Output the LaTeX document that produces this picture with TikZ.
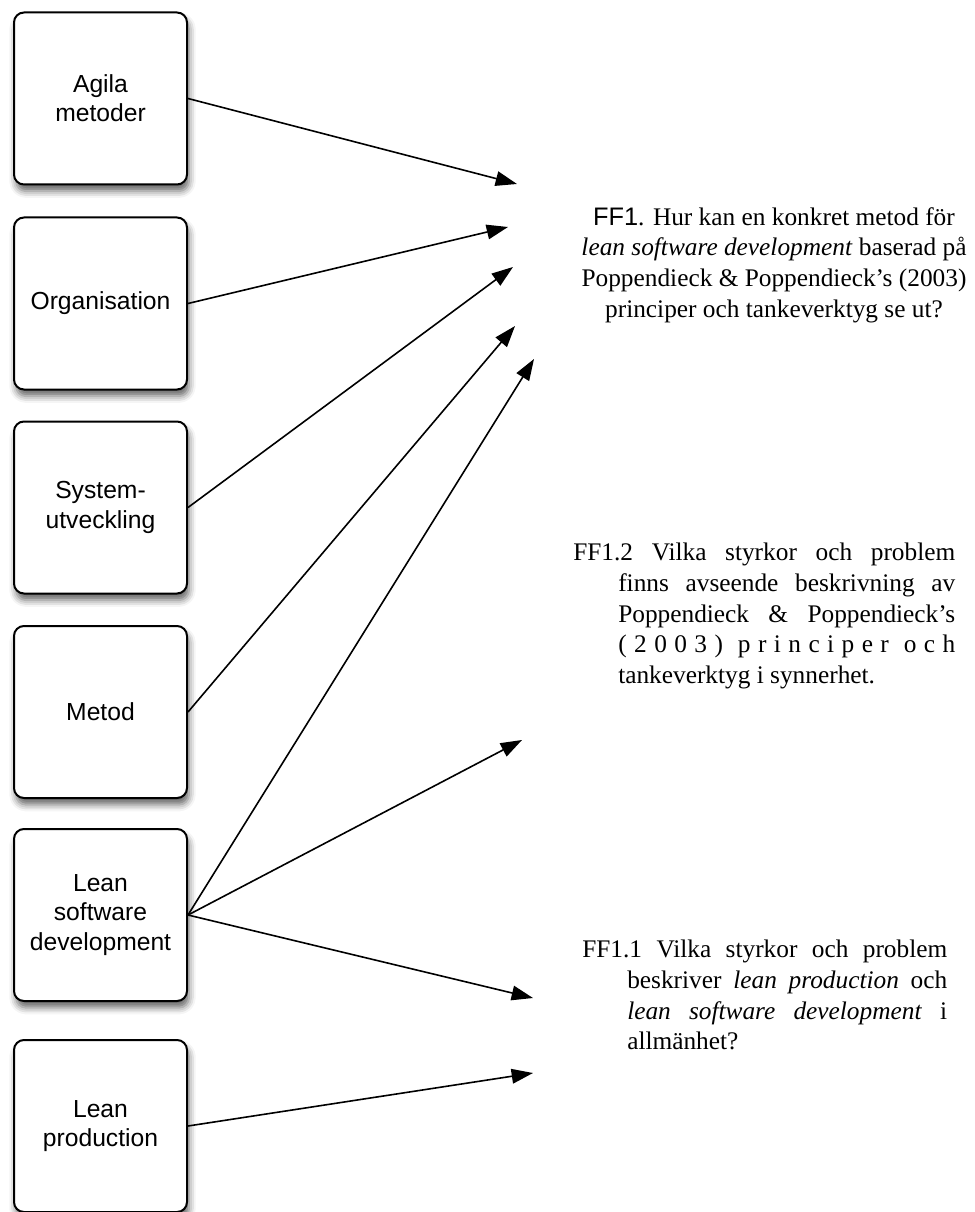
\documentclass[tikz,border=0pt]{standalone}
\usepackage{fontspec}
\setmainfont{Liberation Serif}
\newfontfamily\helv{Liberation Sans}
\usetikzlibrary{arrows.meta,shadows.blur}
\begin{document}
\begin{tikzpicture}[x=0.75pt,y=-0.75pt,
  topic/.style={draw=black, line width=1.5pt, fill=white, rounded corners=7.5pt,
    minimum width=129.75pt, minimum height=129pt, inner sep=0pt, align=center,
    font=\helv\fontsize{18.5}{22}\selectfont,
    blur shadow={shadow xshift=1.5pt, shadow yshift=-5pt, shadow blur radius=5pt, shadow opacity=60}},
  link/.style={line width=1.2pt, -{Triangle[length=16pt,width=11pt]}},
  question/.style={inner sep=0pt, align=left, anchor=north west, font=\fontsize{19}{23}\selectfont}
]
\useasboundingbox (0,0) rectangle (974,1212);

% topic boxes on the left
\node[topic] (agila) at (100.5,98.5)  {Agila\\metoder};
\node[topic] (org)   at (100.5,303.5) {Organisation};
\node[topic] (sys)   at (100.5,507.5) {System-\\utveckling};
\node[topic] (metod) at (100.5,712)   {Metod};
\node[topic] (lsd)   at (100.5,915)   {Lean\\software\\development};
\node[topic] (lp)    at (100.5,1126)  {Lean\\production};

% research questions on the right
\node[inner sep=0pt, align=center, anchor=north, font=\fontsize{19}{23}\selectfont] (ff1) at (774,207)
  {{\helv FF1}. Hur kan en konkret metod för\\
   \textit{lean software development} baserad på\\
   Poppendieck \& Poppendieck’s (2003)\\
   principer och tankeverktyg se ut?};

\node[question] (ff12) at (573,543)
  {\makebox[286.5pt][s]{FF1.2 Vilka styrkor och problem}\\
   \hspace*{33.75pt}\makebox[252.75pt][s]{finns avseende beskrivning av}\\
   \hspace*{33.75pt}\makebox[252.75pt][s]{Poppendieck \& Poppendieck’s}\\
   \hspace*{33.75pt}\hbox to 252.75pt{(\hfill 2\hfill 0\hfill 0\hfill 3\hfill )\hfill\hfill p\hfill r\hfill i\hfill n\hfill c\hfill i\hfill p\hfill e\hfill r\hfill\hfill o\hfill c\hfill h}\\
   \hspace*{33.75pt}tankeverktyg i synnerhet.};

\node[question] (ff11) at (582,940)
  {\makebox[273.75pt][s]{FF1.1 Vilka styrkor och problem}\\
   \hspace*{33.75pt}\makebox[240pt][s]{beskriver \textit{lean production} och}\\
   \hspace*{33.75pt}\makebox[240pt][s]{\textit{lean software development} i}\\
   \hspace*{33.75pt}allmänhet?};

% arrow tips
\coordinate (t1) at (517,184);
\coordinate (t2) at (508,227);
\coordinate (t3) at (513,267);
\coordinate (t4) at (515,326);
\coordinate (t5) at (534,359);
\coordinate (t6) at (522,740);
\coordinate (t7) at (533,998);
\coordinate (t8) at (533,1073);

\draw[link] (agila.east) -- (t1);
\draw[link] (org.east) -- (t2);
\draw[link] (sys.east) -- (t3);
\draw[link] (metod.east) -- (t4);
\draw[link] (lsd.east) -- (t5);
\draw[link] (lsd.east) -- (t6);
\draw[link] (lsd.east) -- (t7);
\draw[link] (lp.east) -- (t8);
\end{tikzpicture}
\end{document}
